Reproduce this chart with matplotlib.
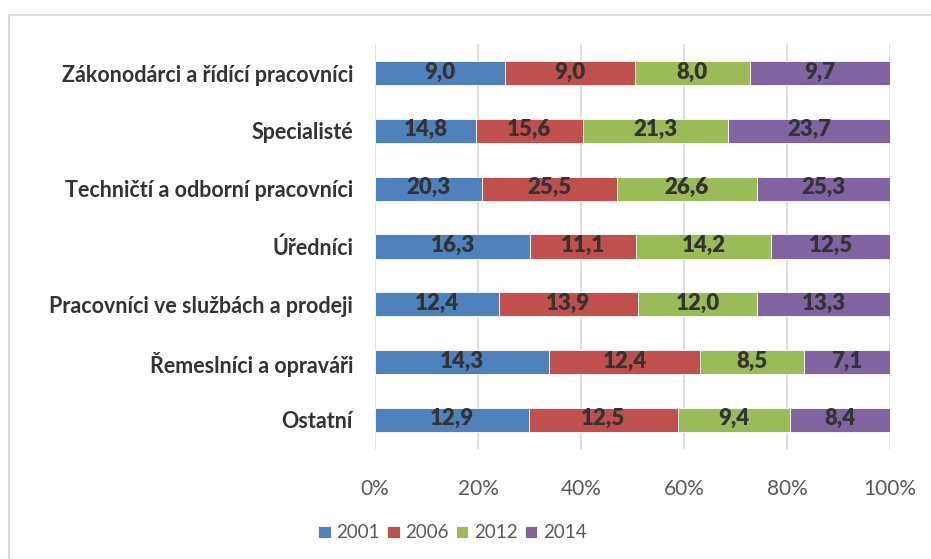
import matplotlib.pyplot as plt
import numpy as np
from matplotlib.patches import Rectangle

categories = [
    "Zákonodárci a řídící pracovníci",
    "Specialisté",
    "Techničtí a odborní pracovníci",
    "Úředníci",
    "Pracovníci ve službách a prodeji",
    "Řemeslníci a opraváři",
    "Ostatní",
]
years = ["2001", "2006", "2012", "2014"]
v2001 = [9.0, 14.8, 20.3, 16.3, 12.4, 14.3, 12.9]
v2006 = [9.0, 15.6, 25.5, 11.1, 13.9, 12.4, 12.5]
v2012 = [8.0, 21.3, 26.6, 14.2, 12.0, 8.5, 9.4]
v2014 = [9.7, 23.7, 25.3, 12.5, 13.3, 7.1, 8.4]
colors = ["#4F81BD", "#C0504D", "#9BBB59", "#8064A2"]

plt.rcParams["font.family"] = ["Lato", "DejaVu Sans"]

series = np.array([v2001, v2006, v2012, v2014])
shares = series / series.sum(axis=0) * 100

fig = plt.figure(figsize=(9.31, 5.59), dpi=100)
ax = fig.add_axes([0.403, 0.197, 0.553, 0.724])

# grey chart border, opens off the right/bottom edge
fig.patches.append(Rectangle((9 / 931, -0.1), 1.1, 1 - 15 / 559 + 0.1,
                             transform=fig.transFigure, fill=False,
                             edgecolor="#D9D9D9", linewidth=1.5))

y = np.arange(len(categories))
left = np.zeros(len(categories))
for i, yr in enumerate(years):
    ax.barh(y, shares[i], left=left, height=0.42, color=colors[i],
            edgecolor="white", linewidth=0.6, label=yr, zorder=3)
    for j in range(len(categories)):
        ax.text(left[j] + shares[i][j] / 2, y[j] - 0.02,
                f"{series[i][j]:.1f}".replace(".", ","),
                ha="center", va="center", fontsize=16, fontweight="heavy",
                color="#333333", zorder=4)
    left += shares[i]

ax.set_xlim(0, 100)
ax.set_ylim(6.5, -0.5)
ax.set_yticks(y)
ax.set_yticklabels(categories, fontsize=15.5, fontweight="bold", color="#333333")
ax.set_xticks(np.arange(0, 101, 20))
ax.set_xticklabels([f"{t}%" for t in range(0, 101, 20)], fontsize=15, color="#595959")
ax.tick_params(axis="both", length=0)
ax.tick_params(axis="x", pad=22)
ax.tick_params(axis="y", pad=16)
ax.grid(axis="x", color="#D9D9D9", linewidth=1.2, zorder=0)
for s in ax.spines.values():
    s.set_visible(False)

fig.legend(loc="center", bbox_to_anchor=(0.486, 1 - 533 / 559), ncol=4,
           frameon=False, fontsize=13.5, handlelength=0.65, handleheight=0.65,
           handletextpad=0.3, columnspacing=0.4, labelcolor="#595959")

fig.savefig("out.png", dpi=100)
